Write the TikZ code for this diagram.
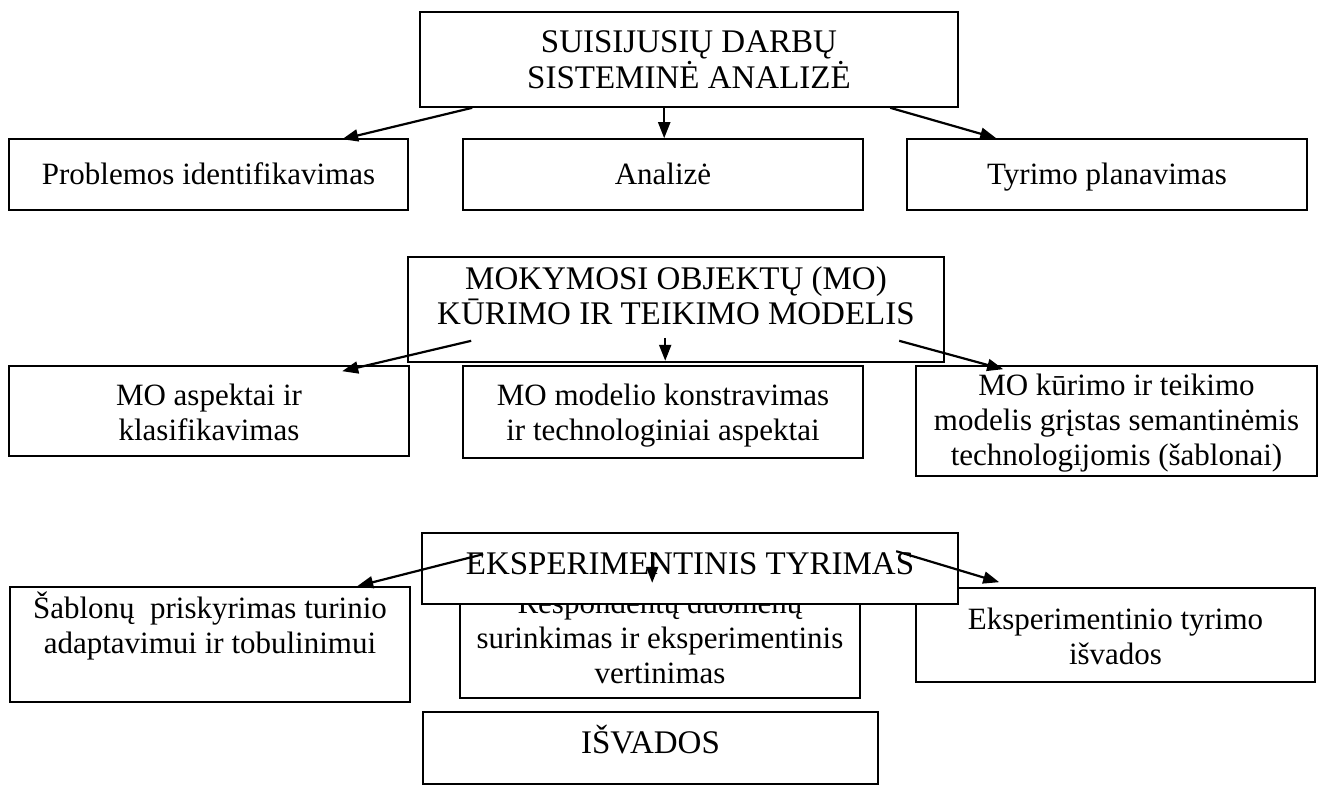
\documentclass[tikz,border=0pt]{standalone}
\usepackage{fontspec}
\setmainfont{Liberation Serif}
\usetikzlibrary{arrows.meta,calc}

% box given by its corners (x1,y1) (x2,y2), y growing downwards
\newcommand\mkbox[5]{%
  \node[box, minimum width={(#4-#2)*0.5pt}, minimum height={(#5-#3)*0.5pt}]
    (#1) at ({(#2+#4)/2},{(#3+#5)/2}) {};}

\begin{document}
\begin{tikzpicture}[x=0.5pt,y=-0.5pt,
  box/.style={draw, line width=0.8pt, fill=white, inner sep=0pt},
  % text nodes are placed by the baseline of their last line
  txt/.style={anchor=base, align=center, inner sep=0pt,
              font=\fontsize{15.5}{17.5}\selectfont},
  ttl/.style={txt, font=\fontsize{16.5}{17.5}\selectfont},
  arr/.style={line width=1.1pt, -{Triangle[length=8pt,width=6pt]}}]
\useasboundingbox (0,0) rectangle (1319,787);

% --- first block
\mkbox{b1}{420}{12}{958}{107}
\node[ttl] (b1t) at (689,88) {SUISIJUSIŲ DARBŲ\\SISTEMINĖ ANALIZĖ};
\mkbox{prob}{9}{139}{408}{210}
\node[txt] (probt) at (prob.center |- 0,184) {Problemos identifikavimas};
\mkbox{anal}{463}{139}{863}{210}
\node[txt] (analt) at (anal.center |- 0,184) {Analizė};
\mkbox{tyr}{907}{139}{1307}{210}
\node[txt] (tyrt) at (tyr.center |- 0,184) {Tyrimo planavimas};

\coordinate (s11) at ($(b1.south west)+(53,0)$);
\coordinate (s12) at ($(b1.south west)+(245,0)$);
\coordinate (s13) at ($(b1.south west)+(471,0)$);
\draw[arr] (s11) -- ($(prob.north west)+(334,1)$);
\draw[arr] (s12) -- ($(anal.north west)+(202,0)$);
\draw[arr] (s13) -- ($(tyr.north west)+(90,0)$);

% --- second block
\mkbox{b2}{408}{257}{944}{362}
\node[ttl] (b2t) at (676,324) {MOKYMOSI OBJEKTŲ (MO)\\KŪRIMO IR TEIKIMO MODELIS};
\mkbox{mas}{9}{366}{409}{456}
\node[txt] (mast) at (mas.center |- 0,440) {MO aspektai ir\\klasifikavimas};
\mkbox{mod}{463}{366}{863}{458}
\node[txt] (modt) at (mod.center |- 0,440) {MO modelio konstravimas\\ir technologiniai aspektai};
\mkbox{kur}{916}{366}{1317}{476}
\node[txt] (kurt) at (kur.center |- 0,465) {MO kūrimo ir teikimo\\modelis grįstas semantinėmis\\technologijomis (šablonai)};

\coordinate (s21) at ($(b2.south west)+(64,-22)$);
\coordinate (s22) at ($(b2.south west)+(258,-25)$);
\coordinate (s23) at ($(b2.south west)+(492,-22)$);
\draw[arr] (s21) -- ($(mas.north west)+(334,6)$);
\draw[arr] (s22) -- ($(b2.south west)+(258,-2)$);
\draw[arr] (s23) -- ($(kur.north west)+(88,4)$);

% --- third block
\mkbox{sab}{10}{587}{410}{702}
\node[txt] (sabt) at (sab.center |- 0,653) {Šablonų\ \ priskyrimas turinio\\adaptavimui ir tobulinimui};
\mkbox{resp}{460}{585}{860}{698}
\node[txt] (respt) at (resp.center |- 0,683) {Respondentų duomenų\\surinkimas ir eksperimentinis\\vertinimas};
\mkbox{eksp}{916}{588}{1315}{682}
\node[txt] (ekspt) at (eksp.center |- 0,664) {Eksperimentinio tyrimo\\išvados};
\mkbox{b3}{422}{533}{958}{604}
\node[ttl] (b3t) at (690,574) {EKSPERIMENTINIS TYRIMAS};

\coordinate (s31) at ($(b3.north west)+(62,22)$);
\coordinate (s32) at ($(b3.north west)+(231,20)$);
\coordinate (s33) at ($(b3.north west)+(475,19)$);
\draw[arr] (s31) -- ($(sab.north west)+(348,0)$);
\draw[arr] (s32) -- ($(b3.south west)+(231,-22)$);
\draw[arr] (s33) -- ($(eksp.north west)+(84,-5)$);

% --- conclusions
\mkbox{isv}{423}{712}{878}{784}
\node[ttl] (isvt) at (isv.center |- 0,753) {IŠVADOS};
\end{tikzpicture}
\end{document}
